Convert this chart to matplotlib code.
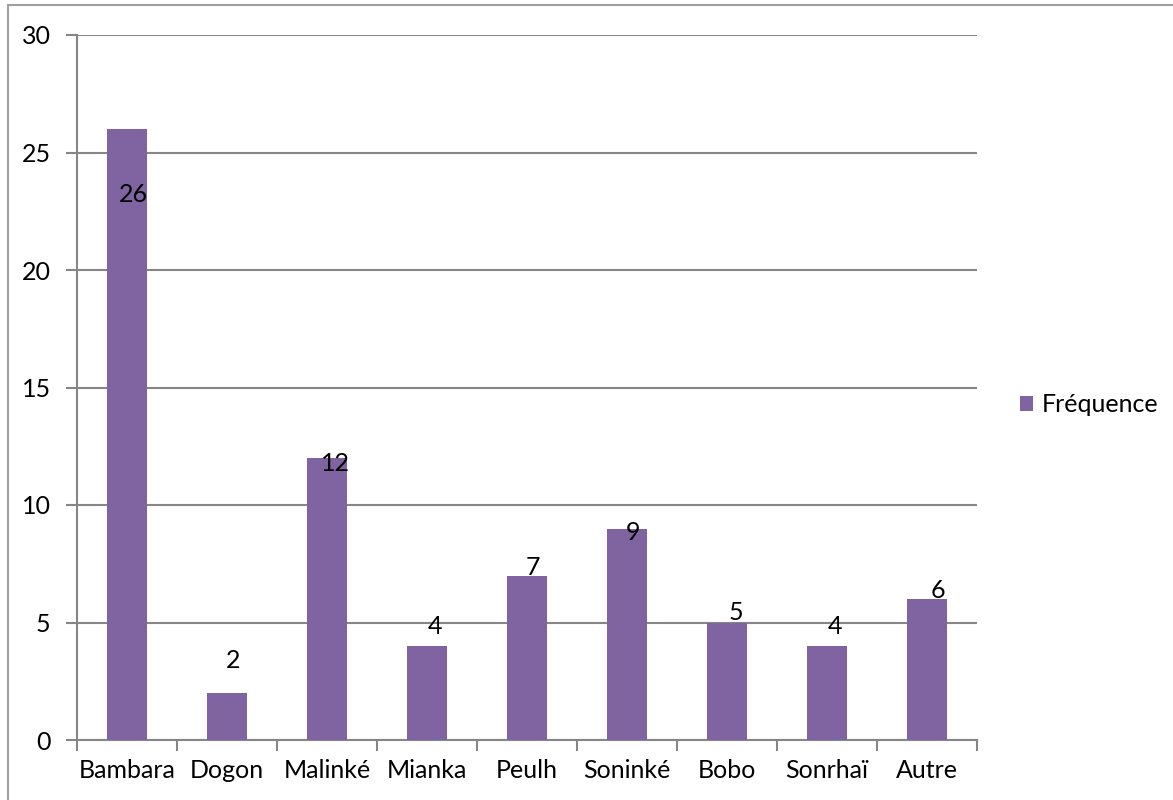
import matplotlib.pyplot as plt
from matplotlib.patches import Rectangle

ethnies = ["Bambara", "Dogon", "Malinké", "Mianka", "Peulh", "Soninké", "Bobo", "Sonrhaï", "Autre"]
frequence = [26, 2, 12, 4, 7, 9, 5, 4, 6]

# label offsets from the top of each bar, in pixels
label_dx = [6, 6, 8, 8, 6, 6, 9, 8, 11]
label_dy = [-66, 33, -5, 19, 8, -4, 10, 19, 9]

bar_color = "#8064A2"
grid_color = "#868686"
font_size = 18
plt.rcParams["font.family"] = ["Lato", "DejaVu Sans"]

fig = plt.figure(figsize=(11.73, 8.0), dpi=100)
ax = fig.add_axes([77 / 1173, 1 - 740 / 800, 900 / 1173, 705 / 800])

x = range(len(ethnies))
ax.bar(x, frequence, width=0.4, color=bar_color, label="Fréquence", zorder=3)

for i, v in enumerate(frequence):
    ax.annotate(str(v), (i, v), xytext=(label_dx[i], label_dy[i]),
                textcoords="offset pixels", ha="center", va="center",
                fontsize=font_size, zorder=4)

ax.set_xlim(-0.5, len(ethnies) - 0.5)
ax.set_ylim(0, 30)
ax.set_yticks(range(0, 31, 5))
ax.set_xticks([i + 0.5 for i in range(-1, len(ethnies))], minor=False)
ax.set_xticklabels([])
ax.set_xticks(list(x), minor=True)
ax.set_xticklabels(ethnies, minor=True)
ax.tick_params(axis="x", which="major", length=8, color=grid_color, width=1.5)
ax.tick_params(axis="x", which="minor", length=0, pad=14, labelsize=font_size)
ax.tick_params(axis="y", length=8, color=grid_color, width=1.5,
               labelsize=font_size, pad=11)

ax.grid(axis="y", color=grid_color, linewidth=1.5, zorder=1)
for side in ["top", "right"]:
    ax.spines[side].set_visible(False)
for side in ["left", "bottom"]:
    ax.spines[side].set_color(grid_color)
    ax.spines[side].set_linewidth(1.5)

fig.legend(loc="center left", bbox_to_anchor=(997 / 1173, 1 - 405 / 800),
           frameon=False, fontsize=font_size, handlelength=0.55, handleheight=0.55,
           handletextpad=0.35)

# outer chart border
fig.patches.append(Rectangle((8 / 1173, -0.05), 1.1, 1 - 5 / 800 + 0.05,
                             transform=fig.transFigure, fill=False,
                             edgecolor="#A0A0A0", linewidth=1.5))

fig.savefig("out.png", dpi=100)
